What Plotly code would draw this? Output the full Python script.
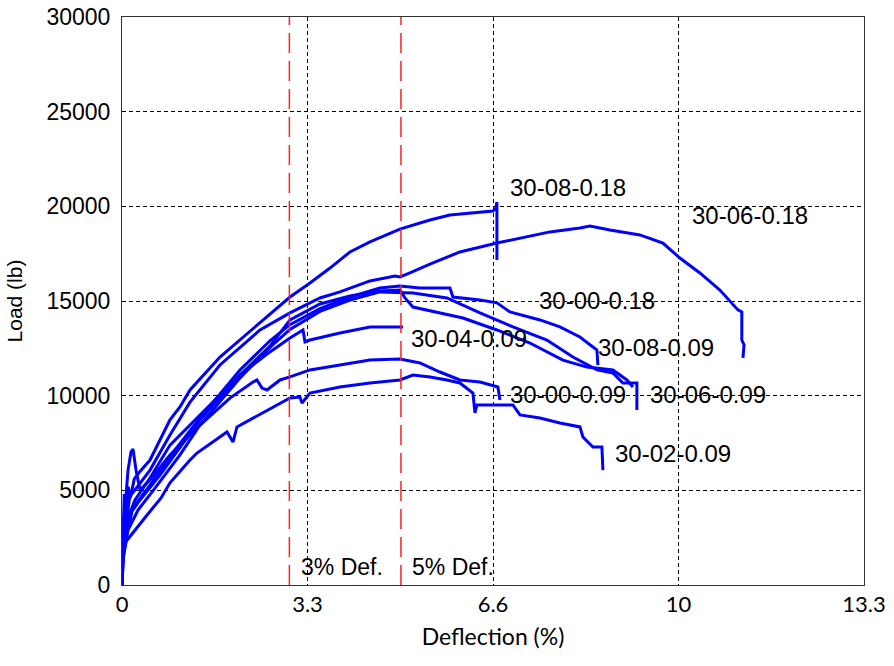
import plotly.graph_objects as go

# Load-deflection test records (deflection in %, load in lb)
s_30_08_018_x = [0, 0.02, 0.04, 0.07, 0.11, 0.15, 0.22, 0.323, 0.502, 0.860, 1.039, 1.219, 1.756, 2.527,
                 3.011, 3.369, 3.728, 4.086, 4.444, 4.982, 5.520, 5.878, 6.416, 6.649, 6.70, 6.72, 6.72]
s_30_08_018_y = [0, 2400, 4800, 3900, 5200, 4600, 5600, 6000, 6600, 8720, 9400, 10300, 12040, 13990,
                 15210, 15950, 16740, 17590, 18120, 18800, 19280, 19540, 19700, 19755, 19900, 20230, 17170]

s_30_06_018_x = [0, 0.018, 0.05, 0.09, 0.14, 0.233, 0.502, 0.860, 1.219, 1.756, 2.473, 3.011, 3.548,
                 3.907, 4.444, 4.892, 4.982, 5.161, 5.520, 6.057, 6.720, 7.133, 7.670, 8.208, 8.387,
                 8.746, 9.283, 9.695, 10.0, 10.358, 10.717, 11.039, 11.11, 11.11, 11.15, 11.13]
s_30_06_018_y = [0, 2900, 4300, 3600, 4700, 5020, 6070, 7920, 9660, 11620, 13470, 14370, 15160,
                 15480, 16060, 16320, 16270, 16480, 16950, 17590, 18060, 18330, 18650, 18860, 18960,
                 18750, 18490, 18060, 17270, 16480, 15580, 14530, 14420, 12940, 12680, 11990]

s_30_00_018_x = [0, 0.036, 0.08, 0.12, 0.18, 0.323, 0.681, 1.129, 1.398, 2.115, 2.652, 3.011, 3.548,
                 4.086, 4.624, 4.982, 5.072, 5.215, 5.699, 6.111, 6.720, 7.312, 7.903, 8.333, 8.799,
                 9.050, 9.158]
s_30_00_018_y = [0, 2110, 3700, 3100, 3900, 4490, 5810, 7660, 8720, 11090, 12620, 14000, 14840,
                 15260, 15530, 15580, 15160, 14680, 14370, 14100, 13470, 12780, 11880, 11510, 11360,
                 10830, 10460]

s_30_04_009_x = [0, 0.018, 0.090, 0.233, 0.502, 0.860, 1.398, 2.115, 2.652, 3.011, 3.244, 3.280, 3.369,
                 3.907, 4.444, 5.036]
s_30_04_009_y = [0, 2110, 3430, 4490, 5650, 7390, 8980, 11090, 12310, 13050, 13470, 12840, 12940,
                 13310, 13630, 13630]

s_30_08_009_x = [0, 0.018, 0.06, 0.10, 0.16, 0.233, 0.502, 0.950, 1.398, 2.115, 2.652, 3.011, 3.548,
                 4.086, 4.624, 4.982, 5.341, 5.878, 5.932, 6.416, 6.720, 6.953, 7.491, 7.849, 8.208,
                 8.513, 8.530]
s_30_08_009_y = [0, 1850, 3600, 2900, 3900, 4220, 5280, 7130, 8820, 11360, 12900, 13750, 14600,
                 15210, 15690, 15790, 15690, 15690, 15210, 15050, 14900, 14420, 14000, 13630, 13100,
                 12410, 11620]

s_30_06_009_x = [0, 0.018, 0.108, 0.287, 0.592, 1.039, 1.398, 2.115, 2.652, 3.011, 3.548, 4.086, 4.624,
                 4.982, 5.215, 5.824, 6.416, 7.007, 7.616, 8.082, 8.513, 8.799, 8.978, 9.158, 9.229, 9.229]
s_30_06_009_y = [0, 1320, 2900, 3960, 5120, 6870, 8450, 10930, 12550, 13500, 14450, 15050, 15480,
                 15420, 15420, 15160, 14370, 13630, 12940, 12040, 11360, 11200, 10670, 10670, 10670, 9240]

s_30_00_009_x = [0, 0, 0.036, 0.108, 0.161, 0.197, 0.251, 0.323, 0.502, 0.860, 1.398, 1.935, 2.348,
                 2.419, 2.509, 2.599, 2.832, 3.011, 3.369, 3.907, 4.444, 4.982, 5.341, 5.699, 6.057,
                 6.416, 6.738, 6.774]
s_30_00_009_y = [0, 1320, 3430, 6070, 7020, 7180, 6070, 5020, 5550, 6870, 8450, 9870, 10720,
                 10830, 10400, 10300, 10830, 10990, 11360, 11620, 11880, 11940, 11730, 11250, 10830,
                 10720, 10460, 9770]

s_30_02_009_x = [0, 0.018, 0.072, 0.23, 0.45, 0.70, 0.860, 1.219, 1.344, 1.882, 1.989, 2.061, 2.527,
                 3.011, 3.190, 3.226, 3.369, 3.907, 4.444, 4.982, 5.215, 5.520, 5.824, 6.057, 6.290,
                 6.326, 6.362, 6.774, 7.007, 7.133, 7.491, 7.849, 8.208, 8.262, 8.441, 8.602, 8.620]
s_30_02_009_y = [0, 1580, 2300, 2900, 3700, 4600, 5400, 6600, 6970, 8080, 7550, 8350, 9090,
                 9880, 9930, 9610, 10140, 10460, 10670, 10830, 11090, 10990, 10830, 10670, 10140,
                 9090, 9510, 9510, 9510, 8980, 8820, 8560, 8350, 7820, 7290, 7290, 6070]

series = [
    (s_30_08_018_x, s_30_08_018_y),
    (s_30_06_018_x, s_30_06_018_y),
    (s_30_00_018_x, s_30_00_018_y),
    (s_30_04_009_x, s_30_04_009_y),
    (s_30_08_009_x, s_30_08_009_y),
    (s_30_06_009_x, s_30_06_009_y),
    (s_30_00_009_x, s_30_00_009_y),
    (s_30_02_009_x, s_30_02_009_y),
]

# Specimen labels and where they sit (deflection %, load lb)
label_text = ["30-08-0.18", "30-06-0.18", "30-00-0.18", "30-04-0.09",
              "30-08-0.09", "30-00-0.09", "30-06-0.09", "30-02-0.09"]
label_x = [6.92, 10.18, 7.44, 5.15, 8.50, 6.92, 9.43, 8.80]
label_y = [20970, 19540, 15050, 13040, 12520, 10040, 10040, 6920]

# Deflection limit markers
limit_x = [3.0, 5.0]
limit_text = ["3% Def.", "5% Def."]

x_tickvals = [0, 3.325, 6.65, 9.975, 13.3]
x_ticktext = ["0", "3.3", "6.6", "10", "13.3"]
y_tickvals = [0, 5000, 10000, 15000, 20000, 25000, 30000]
y_ticktext = ["0", "5000", "10000", "15000", "20000", "25000", "30000"]

fig = go.Figure()
for xs, ys in series:
    fig.add_trace(go.Scatter(x=xs, y=ys, mode="lines",
                             line=dict(color="#0000ff", width=3),
                             showlegend=False, hoverinfo="skip"))

for lx in limit_x:
    fig.add_shape(type="line", xref="x", yref="paper", x0=lx, x1=lx, y0=0, y1=1,
                  line=dict(color="#ff2020", width=1.5, dash="20px,8px"))

for lx, txt in zip(limit_x, limit_text):
    fig.add_annotation(x=lx + 0.17, y=950, text=txt, showarrow=False, xanchor="left",
                       yanchor="middle",
                       font=dict(family="Liberation Sans, Arial", size=23, color="black"))

for txt, lx, ly in zip(label_text, label_x, label_y):
    fig.add_annotation(x=lx, y=ly, text=txt, showarrow=False, xanchor="left",
                       yanchor="middle",
                       font=dict(family="Liberation Sans, Arial", size=24, color="black"))

fig.update_layout(
    width=894, height=666,
    margin=dict(l=122, r=30, t=17, b=81),
    paper_bgcolor="white", plot_bgcolor="white",
    xaxis=dict(range=[0, 13.3], tickvals=x_tickvals, ticktext=x_ticktext, automargin=False,
               showgrid=True, gridcolor="black", gridwidth=1, griddash="4px,3px",
               showline=True, linecolor="#333333", linewidth=1, mirror=True,
               zeroline=False, ticks="",
               tickfont=dict(family="Lato", size=22, color="black"),
               title=dict(text="Deflection (%)", standoff=12,
                          font=dict(family="Lato", size=23, color="black"))),
    yaxis=dict(range=[0, 30000], tickvals=y_tickvals, ticktext=y_ticktext, automargin=False,
               showgrid=True, gridcolor="black", gridwidth=1, griddash="4px,3px",
               showline=True, linecolor="#333333", linewidth=1, mirror=True,
               zeroline=False, ticks="", ticklabelstandoff=6,
               tickfont=dict(family="Liberation Sans, Arial", size=23, color="black"),
               title=dict(text="Load (lb)", standoff=18,
                          font=dict(family="Liberation Sans, Arial", size=21, color="black"))),
)

fig.write_html("out.html", config={"displayModeBar": False})
